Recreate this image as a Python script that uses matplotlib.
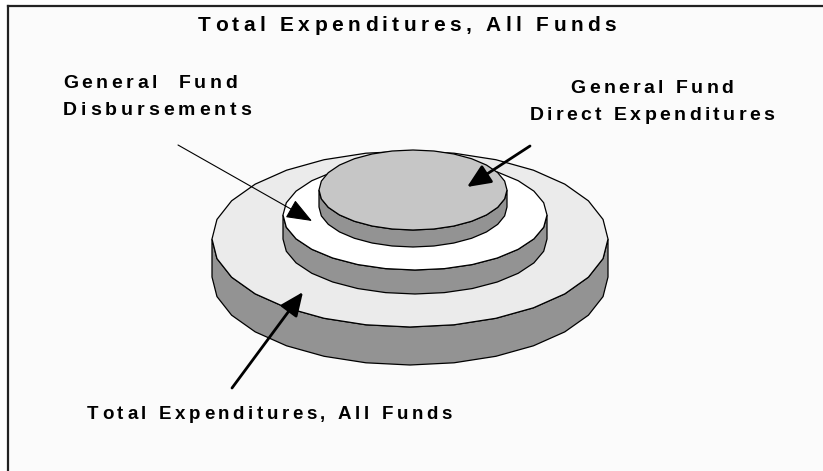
import numpy as np
import matplotlib
matplotlib.use("Agg")
import matplotlib.pyplot as plt
from matplotlib.patches import Polygon
from matplotlib.font_manager import FontProperties

# tiers of the stacked discs, bottom to top
tiers = ["Total Expenditures, All Funds", "General Fund Disbursements",
         "General Fund Direct Expenditures"]
disc_half_width = [198, 132, 94]
disc_half_depth = [88, 55, 40]
disc_thickness = [38, 24, 17]
disc_center_x = [410, 415, 413]
disc_top_y = [239, 215, 190]
top_colors = ["#ebebeb", "#ffffff", "#c6c6c6"]
side_color = "#939393"

title = "Total Expenditures, All Funds"
left_label = ["General  Fund", "Disbursements"]
right_label = ["General Fund", "Direct Expenditures"]
bottom_label = "Total Expenditures, All Funds"

W, H = 823, 471
fig = plt.figure(figsize=(W / 100, H / 100), dpi=100)
fig.patch.set_facecolor("white")
ax = fig.add_axes([0, 0, 1, 1])
ax.set_xlim(0, W)
ax.set_ylim(H, 0)
ax.axis("off")

# chart area + frame (left and top only visible)
ax.add_patch(plt.Rectangle((8, 6), W, H, facecolor="#fbfbfb", edgecolor="none", zorder=0))
ax.plot([8, W], [6, 6], color="#222222", lw=1.6, zorder=1)
ax.plot([8, 8], [6, H], color="#222222", lw=1.6, zorder=1)

# discs, faceted like the original
n = 28
for i in range(len(tiers)):
    cx, cy = disc_center_x[i], disc_top_y[i]
    a, b, h = disc_half_width[i], disc_half_depth[i], disc_thickness[i]
    t = np.linspace(0, 2 * np.pi, n + 1)
    tx = cx + a * np.cos(t)
    ty = cy + b * np.sin(t)
    lower = t <= np.pi + 1e-9
    lx, ly = tx[lower], ty[lower]
    side = np.concatenate([np.column_stack([lx, ly]),
                           np.column_stack([lx[::-1], ly[::-1] + h])])
    ax.add_patch(Polygon(side, closed=True, facecolor=side_color,
                         edgecolor="black", lw=0.9, zorder=2 + 2 * i))
    ax.add_patch(Polygon(np.column_stack([tx, ty]), closed=True,
                         facecolor=top_colors[i], edgecolor="black",
                         lw=0.9, zorder=3 + 2 * i))

# arrows
ax.annotate("", xy=(312, 221), xytext=(178, 145),
            arrowprops=dict(arrowstyle="-|>,head_length=0.9,head_width=0.35",
                            mutation_scale=18, lw=0.8, color="black",
                            shrinkA=0, shrinkB=0), zorder=20)
ax.annotate("", xy=(467, 187), xytext=(530, 146),
            arrowprops=dict(arrowstyle="-|>,head_length=0.8,head_width=0.35",
                            mutation_scale=18, lw=2, color="black",
                            shrinkA=0, shrinkB=0), zorder=20)
ax.annotate("", xy=(303, 292), xytext=(232, 388),
            arrowprops=dict(arrowstyle="-|>,head_length=0.8,head_width=0.35",
                            mutation_scale=18, lw=2, color="black",
                            shrinkA=0, shrinkB=0), zorder=20)

# letter-spaced bold text
renderer = fig.canvas.get_renderer()


def advance(ch, prop):
    w1 = renderer.get_text_width_height_descent("x" + ch + "x", prop, ismath=False)[0]
    w0 = renderer.get_text_width_height_descent("xx", prop, ismath=False)[0]
    return w1 - w0


def spaced_text(x, y, s, size, track, ha="left"):
    prop = FontProperties(family="Liberation Sans", weight="bold", size=size)
    widths = [advance(ch, prop) for ch in s]
    total = sum(widths) + track * (len(s) - 1)
    pos = x - total / 2 if ha == "center" else x
    for ch, w in zip(s, widths):
        ax.text(pos, y, ch, fontproperties=prop, ha="left", va="baseline",
                color="black", zorder=30)
        pos += w + track


spaced_text(407, 31, title, 15, 4.4, ha="center")
spaced_text(63, 88, left_label[0], 14, 3.6)
spaced_text(63, 115, left_label[1], 14, 3.9)
spaced_text(652, 93, right_label[0], 14, 3.4, ha="center")
spaced_text(652, 120, right_label[1], 14, 3.4, ha="center")
spaced_text(87, 419, bottom_label, 13.5, 3.6)

fig.savefig("out.png", dpi=100, facecolor=fig.get_facecolor())
